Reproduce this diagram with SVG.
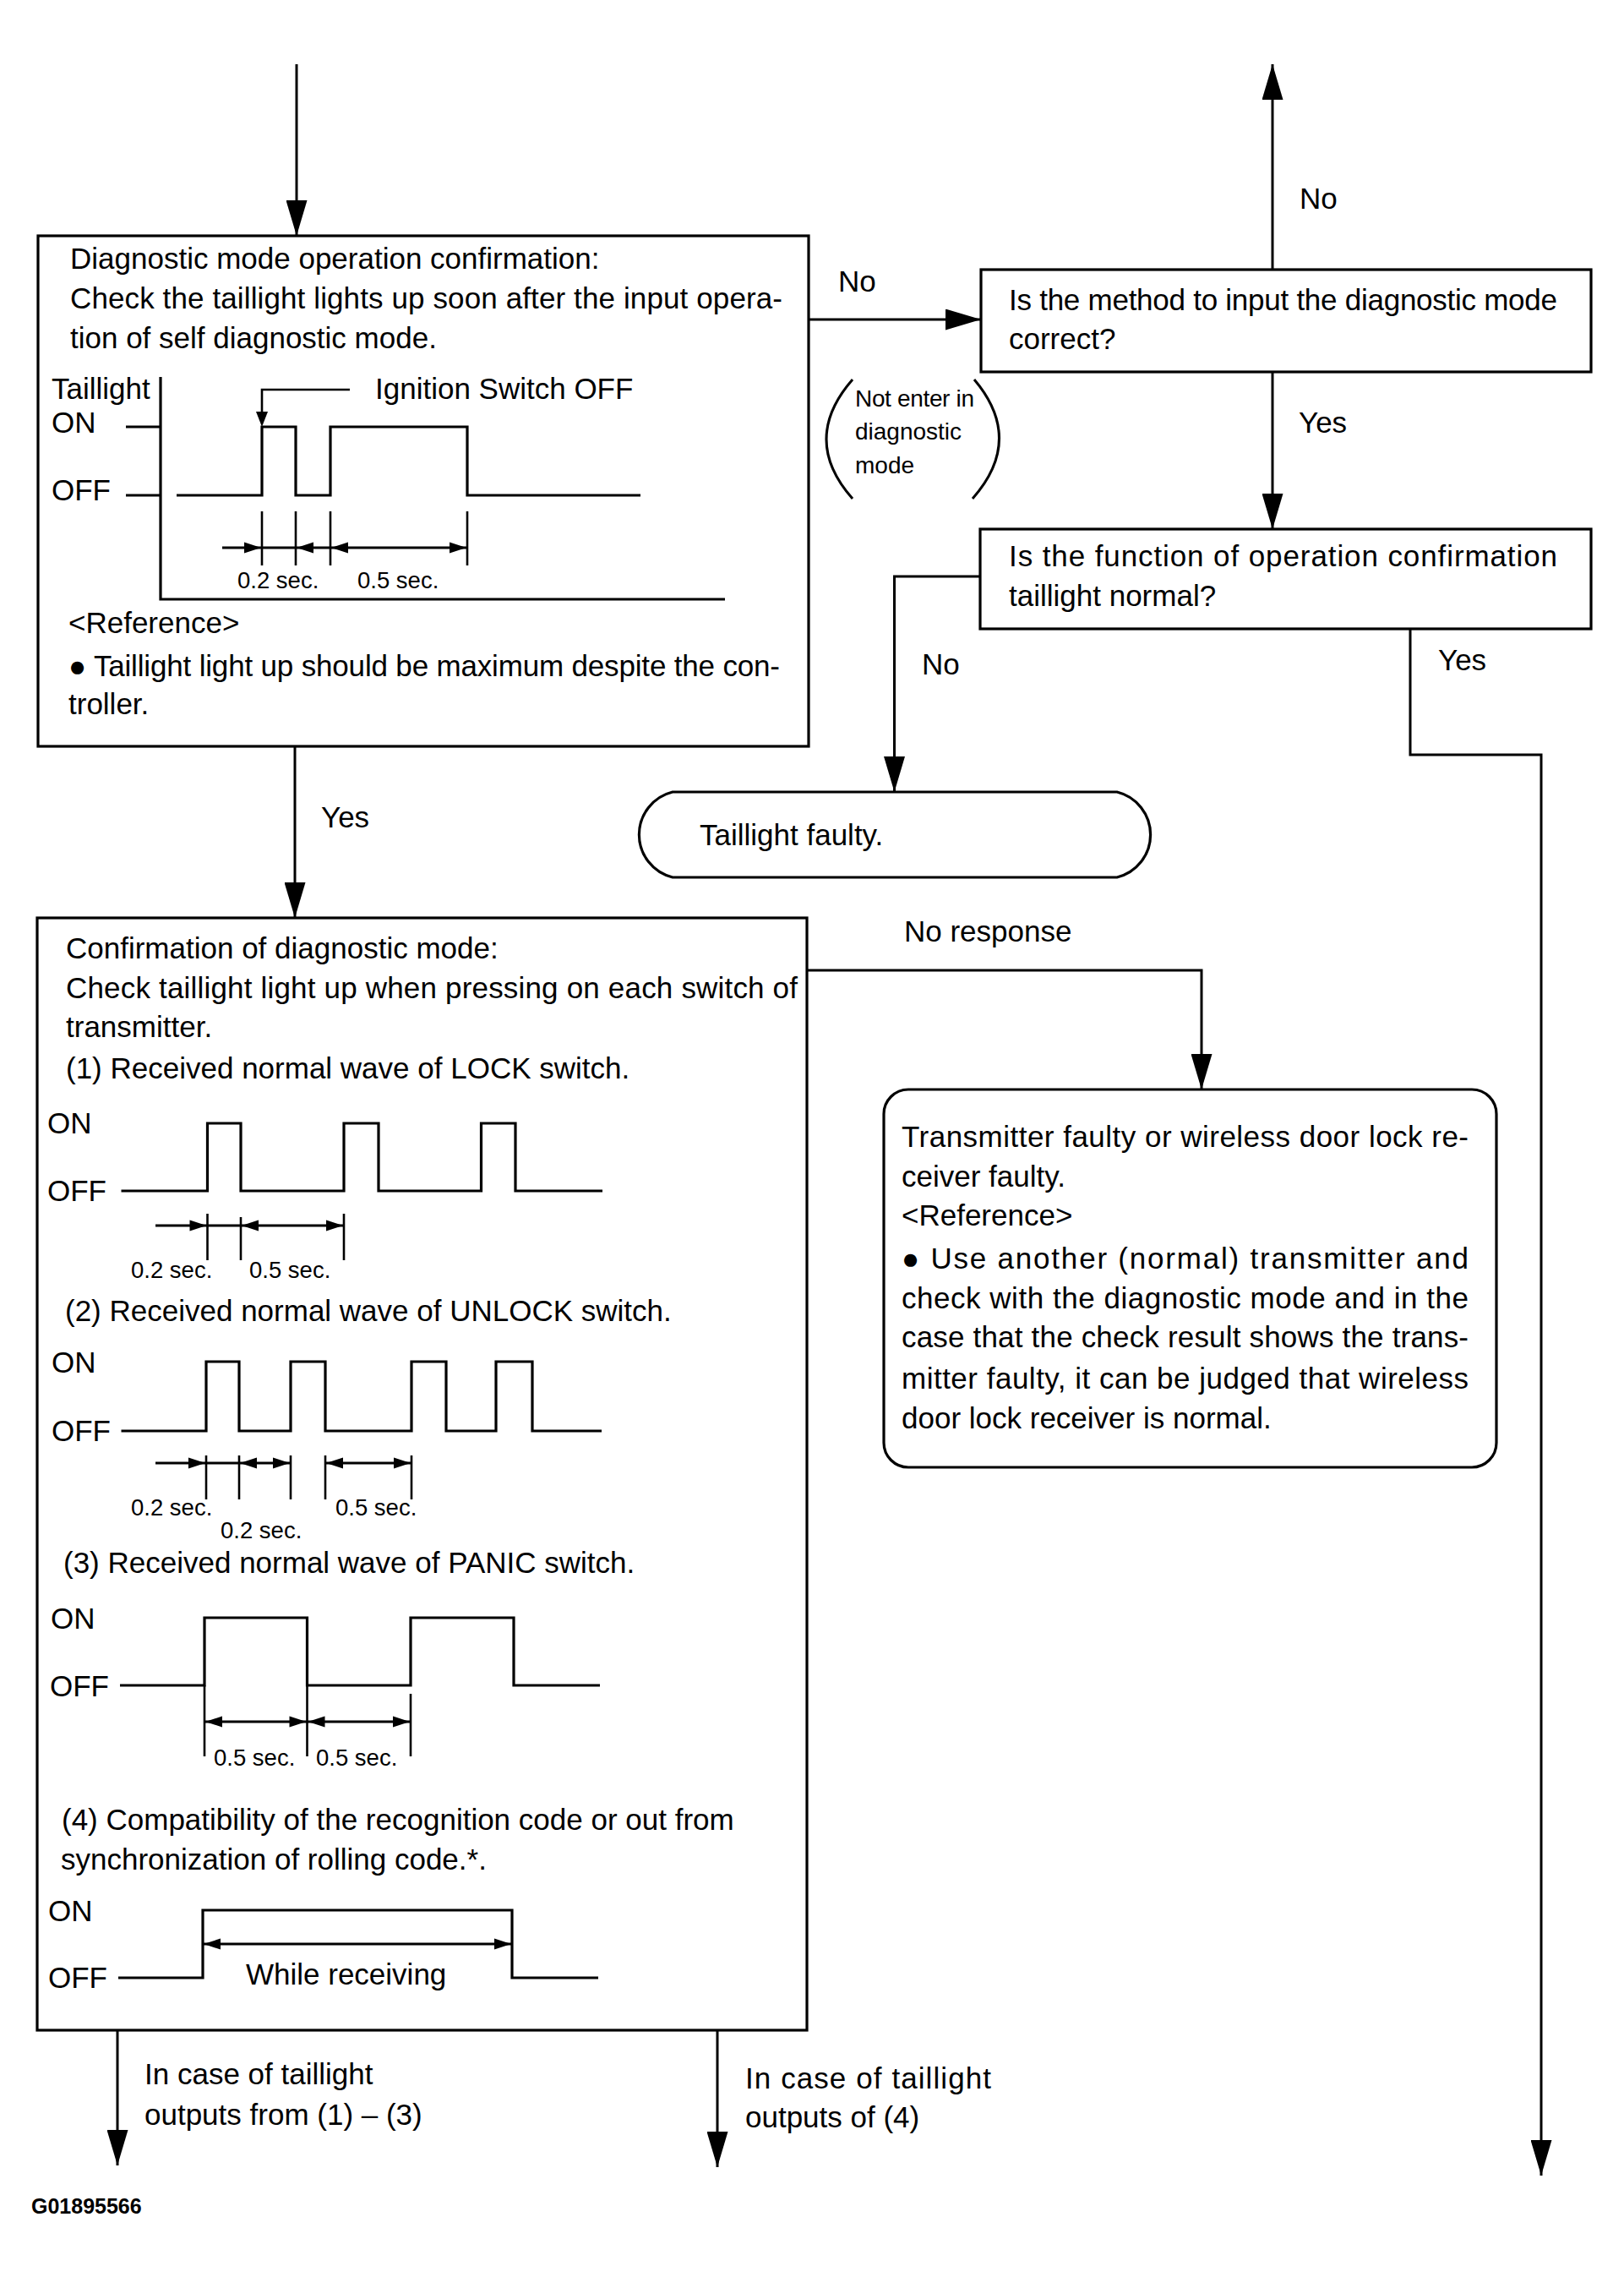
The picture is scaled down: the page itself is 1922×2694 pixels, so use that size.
<svg xmlns="http://www.w3.org/2000/svg" width="1922" height="2694" viewBox="0 0 1922 2694">
<style>
text{font-family:"Liberation Sans",Arial,Helvetica,sans-serif;font-size:35px;fill:#000}
.sm{font-size:27.5px}
.pn{font-size:28px}
.id{font-size:25px;font-weight:bold}
.box{fill:#fff;stroke:#000;stroke-width:3.2}
.ln{fill:none;stroke:#000;stroke-width:3}
.wv{fill:none;stroke:#000;stroke-width:3.2}
.tk{fill:none;stroke:#000;stroke-width:2.6}
.dim{fill:none;stroke:#000;stroke-width:3}
</style>
<defs>
<marker id="arr" viewBox="0 0 42 25" refX="42" refY="12.5" markerWidth="42" markerHeight="25" markerUnits="userSpaceOnUse" orient="auto">
<path d="M0,0 L42,12.5 L0,25 Z" fill="#000"/>
</marker>
<path id="ahr" d="M0,0 L-20,-6.5 L-20,6.5 Z" fill="#000"/>
<path id="ahl" d="M0,0 L20,-6.5 L20,6.5 Z" fill="#000"/>
<path id="ahd" d="M0,0 L-7,-18 L7,-18 Z" fill="#000"/>
</defs>
<rect width="1922" height="2694" fill="#fff"/>

<g id="connectors">
<line class="ln" x1="351" y1="76" x2="351" y2="279" marker-end="url(#arr)"/>
<line class="ln" x1="957" y1="378" x2="1161" y2="378" marker-end="url(#arr)"/>
<line class="ln" x1="1506" y1="319" x2="1506" y2="76" marker-end="url(#arr)"/>
<line class="ln" x1="1506" y1="440" x2="1506" y2="626" marker-end="url(#arr)"/>
<polyline class="ln" points="1160,682 1058.5,682 1058.5,937" marker-end="url(#arr)"/>
<polyline class="ln" points="1669,744 1669,893 1824,893 1824,2574" marker-end="url(#arr)"/>
<line class="ln" x1="349" y1="883" x2="349" y2="1086" marker-end="url(#arr)"/>
<polyline class="ln" points="956,1148 1422,1148 1422,1289" marker-end="url(#arr)"/>
<line class="ln" x1="139" y1="2402" x2="139" y2="2562" marker-end="url(#arr)"/>
<line class="ln" x1="849" y1="2402" x2="849" y2="2564" marker-end="url(#arr)"/>
<text x="1538" y="247">No</text>
<text x="992" y="345">No</text>
<text x="1537" y="512">Yes</text>
<text x="1091" y="798">No</text>
<text x="1702" y="793">Yes</text>
<text x="380" y="979">Yes</text>
<text x="1070" y="1114">No response</text>
<path class="ln" d="M1009,449 Q947,520 1009,590"/>
<path class="ln" d="M1153,449 Q1213,520 1151,590"/>
<text class="pn" x="1012" y="481" textLength="141">Not enter in</text>
<text class="pn" x="1012" y="520">diagnostic</text>
<text class="pn" x="1012" y="560">mode</text>
<text x="171" y="2466">In case of taillight</text>
<text x="171" y="2514">outputs from (1) – (3)</text>
<text x="882" y="2471" textLength="291">In case of taillight</text>
<text x="882" y="2517">outputs of (4)</text>
</g>

<g id="node-operation-confirmation">
<rect class="box" x="45" y="279" width="912" height="604"/>
<text x="83" y="318">Diagnostic mode operation confirmation:</text>
<text x="83" y="365" textLength="843">Check the taillight lights up soon after the input opera-</text>
<text x="83" y="412">tion of self diagnostic mode.</text>
<text x="61" y="472">Taillight</text>
<text x="61" y="512">ON</text>
<text x="61" y="592">OFF</text>
<polyline class="wv" points="190,446 190,709 858,709"/>
<line class="wv" x1="149" y1="505" x2="190" y2="505"/>
<line class="wv" x1="149" y1="586" x2="190" y2="586"/>
<polyline class="wv" points="209,586 310,586 310,505 350,505 350,586 391,586 391,505 553,505 553,586 758,586"/>
<polyline class="tk" points="414,461 310,461 310,490"/>
<use href="#ahd" x="310" y="505"/>
<text x="444" y="472">Ignition Switch OFF</text>
<line class="dim" x1="263" y1="648" x2="553" y2="648"/>
<line class="tk" x1="310" y1="605" x2="310" y2="669"/>
<line class="tk" x1="350" y1="605" x2="350" y2="669"/>
<line class="tk" x1="391" y1="605" x2="391" y2="669"/>
<line class="tk" x1="553" y1="605" x2="553" y2="669"/>
<use href="#ahr" x="309" y="648"/>
<use href="#ahl" x="351" y="648"/>
<use href="#ahl" x="392" y="648"/>
<use href="#ahr" x="552" y="648"/>
<text class="sm" x="281" y="696">0.2 sec.</text>
<text class="sm" x="423" y="696">0.5 sec.</text>
<text x="81" y="749">&lt;Reference&gt;</text>
<text x="81" y="800" textLength="842">● Taillight light up should be maximum despite the con-</text>
<text x="81" y="845">troller.</text>
</g>

<g id="node-method-correct">
<rect class="box" x="1161" y="319" width="722" height="121"/>
<text x="1194" y="367" textLength="649">Is the method to input the diagnostic mode</text>
<text x="1194" y="413">correct?</text>
</g>

<g id="node-function-normal">
<rect class="box" x="1160" y="626" width="723" height="118"/>
<text x="1194" y="670" textLength="649">Is the function of operation confirmation</text>
<text x="1194" y="717">taillight normal?</text>
</g>

<g id="node-taillight-faulty">
<path class="box" d="M796,937 H1322 A52,52 0 0 1 1322,1038 H796 A52,52 0 0 1 796,937 Z"/>
<text x="828" y="1000">Taillight faulty.</text>
</g>

<g id="node-confirmation-diagnostic">
<rect class="box" x="44" y="1086" width="911" height="1316"/>
<text x="78" y="1134">Confirmation of diagnostic mode:</text>
<text x="78" y="1181" textLength="866">Check taillight light up when pressing on each switch of</text>
<text x="78" y="1227">transmitter.</text>
<text x="78" y="1276">(1) Received normal wave of LOCK switch.</text>
<text x="56" y="1341">ON</text>
<text x="56" y="1421">OFF</text>
<polyline class="wv" points="143.5,1409 245.5,1409 245.5,1329 285,1329 285,1409 407,1409 407,1329 448,1329 448,1409 569.5,1409 569.5,1329 610,1329 610,1409 713,1409"/>
<line class="dim" x1="184" y1="1450" x2="407" y2="1450"/>
<line class="tk" x1="245.5" y1="1436" x2="245.5" y2="1491"/>
<line class="tk" x1="285" y1="1440" x2="285" y2="1491"/>
<line class="tk" x1="407" y1="1436" x2="407" y2="1491"/>
<use href="#ahr" x="244.5" y="1450"/>
<use href="#ahl" x="286" y="1450"/>
<use href="#ahr" x="406" y="1450"/>
<text class="sm" x="155" y="1512">0.2 sec.</text>
<text class="sm" x="295" y="1512">0.5 sec.</text>

<text x="77" y="1563">(2) Received normal wave of UNLOCK switch.</text>
<text x="61" y="1624">ON</text>
<text x="61" y="1705">OFF</text>
<polyline class="wv" points="143.5,1693 244,1693 244,1611 283,1611 283,1693 344,1693 344,1611 385,1611 385,1693 487,1693 487,1611 528,1611 528,1693 587,1693 587,1611 630,1611 630,1693 712,1693"/>
<line class="dim" x1="184" y1="1731" x2="344" y2="1731"/>
<line class="dim" x1="385" y1="1731" x2="487" y2="1731"/>
<line class="tk" x1="244" y1="1722" x2="244" y2="1774"/>
<line class="tk" x1="283" y1="1722" x2="283" y2="1774"/>
<line class="tk" x1="344" y1="1722" x2="344" y2="1774"/>
<line class="tk" x1="385" y1="1722" x2="385" y2="1774"/>
<line class="tk" x1="487" y1="1722" x2="487" y2="1774"/>
<use href="#ahr" x="243" y="1731"/>
<use href="#ahl" x="284" y="1731"/>
<use href="#ahr" x="343" y="1731"/>
<use href="#ahl" x="386" y="1731"/>
<use href="#ahr" x="486" y="1731"/>
<text class="sm" x="155" y="1793">0.2 sec.</text>
<text class="sm" x="261" y="1820">0.2 sec.</text>
<text class="sm" x="397" y="1793">0.5 sec.</text>

<text x="75" y="1861">(3) Received normal wave of PANIC switch.</text>
<text x="60" y="1927">ON</text>
<text x="59" y="2007">OFF</text>
<polyline class="wv" points="142,1994 242,1994 242,1914 363.5,1914 363.5,1994 486,1994 486,1914 608,1914 608,1994 710,1994"/>
<line class="dim" x1="242" y1="2037" x2="486" y2="2037"/>
<line class="tk" x1="242" y1="1994" x2="242" y2="2078"/>
<line class="tk" x1="363.5" y1="1994" x2="363.5" y2="2078"/>
<line class="tk" x1="486" y1="2004" x2="486" y2="2078"/>
<use href="#ahl" x="243" y="2037"/>
<use href="#ahr" x="362.5" y="2037"/>
<use href="#ahl" x="364.5" y="2037"/>
<use href="#ahr" x="485" y="2037"/>
<text class="sm" x="253" y="2089">0.5 sec.</text>
<text class="sm" x="374" y="2089">0.5 sec.</text>

<text x="73" y="2165">(4) Compatibility of the recognition code or out from</text>
<text x="72" y="2212">synchronization of rolling code.*.</text>
<text x="57" y="2273">ON</text>
<text x="57" y="2352">OFF</text>
<polyline class="wv" points="140,2340 240,2340 240,2260 606,2260 606,2340 708,2340"/>
<line class="dim" x1="240" y1="2300" x2="606" y2="2300"/>
<use href="#ahl" x="241" y="2300"/>
<use href="#ahr" x="605" y="2300"/>
<text x="291" y="2348">While receiving</text>
</g>

<g id="node-transmitter-faulty">
<rect class="box" x="1046" y="1289" width="725" height="447" rx="29" ry="29"/>
<text x="1067" y="1357" textLength="671">Transmitter faulty or wireless door lock re-</text>
<text x="1067" y="1404">ceiver faulty.</text>
<text x="1067" y="1450">&lt;Reference&gt;</text>
<text x="1067" y="1501" textLength="671">● Use another (normal) transmitter and</text>
<text x="1067" y="1548" textLength="671">check with the diagnostic mode and in the</text>
<text x="1067" y="1594" textLength="671">case that the check result shows the trans-</text>
<text x="1067" y="1643" textLength="671">mitter faulty, it can be judged that wireless</text>
<text x="1067" y="1690">door lock receiver is normal.</text>
</g>

<g id="figure-id">
<text class="id" x="37" y="2619">G01895566</text>
</g>
</svg>
